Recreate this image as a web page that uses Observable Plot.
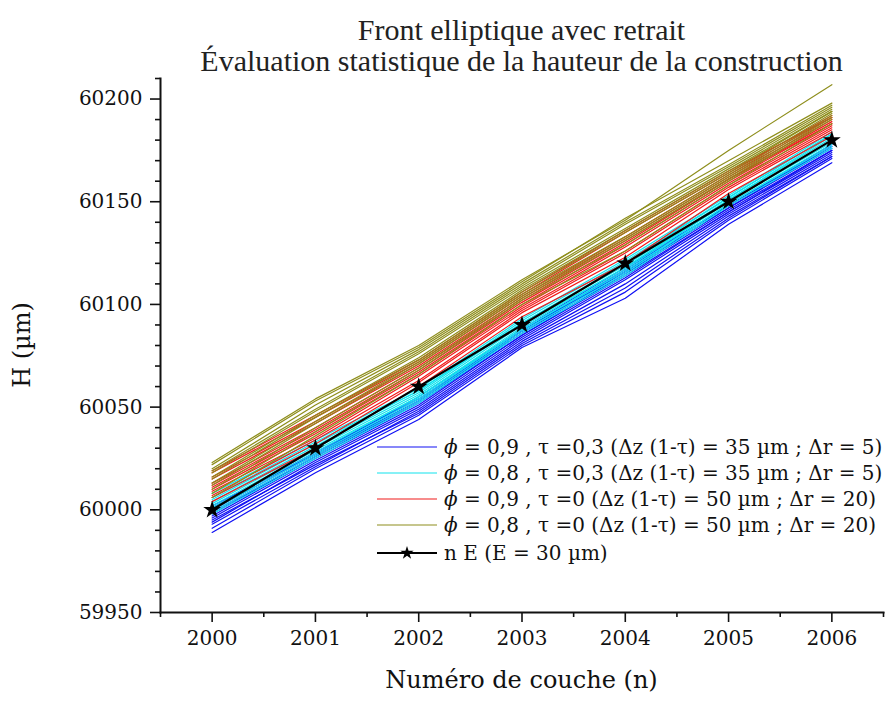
<!DOCTYPE html>
<html><head><meta charset="utf-8">
<script src="https://cdn.jsdelivr.net/npm/d3@7"></script>
<script src="https://cdn.jsdelivr.net/npm/@observablehq/plot@0.6"></script>
<style>
body{margin:0;background:#fff;width:893px;height:702px;overflow:hidden}
#title{height:72px;padding-left:160px;width:723px;font-family:"Liberation Serif",serif;font-size:30px;line-height:31px;text-align:center;color:#222;}
#chart svg{display:block}
</style></head><body>
<div id="title"><div style="padding-top:14px">Front elliptique avec retrait</div><div>Évaluation statistique de la hauteur de la construction</div></div>
<div id="chart"></div>
<script>
// Layer numbers (x)
const layers = [2000, 2001, 2002, 2003, 2004, 2005, 2006];
// Reference n E (E = 30 µm)
const reference = [60000, 60030, 60060, 60090, 60120, 60150, 60180];
// phi = 0,9 , tau = 0,3
const blueRuns = [
  [59989, 60018, 60044, 60079, 60103, 60139, 60169],
  [59991, 60020, 60046, 60080, 60106, 60141, 60171],
  [59993, 60021, 60048, 60082, 60110, 60143, 60172],
  [59994, 60023, 60049, 60083, 60112, 60144, 60173],
  [59996, 60024, 60050, 60084, 60113, 60145, 60174],
  [59997, 60025, 60051, 60085, 60114, 60145, 60175],
  [59998, 60026, 60052, 60085, 60115, 60146, 60175],
  [59999, 60026, 60053, 60086, 60116, 60147, 60176],
  [60000, 60027, 60053, 60087, 60116, 60147, 60177],
  [60001, 60028, 60054, 60087, 60117, 60148, 60177],
  [60002, 60027, 60055, 60088, 60118, 60148, 60178],
  [59995, 60022, 60047, 60081, 60108, 60142, 60172]
];
// phi = 0,8 , tau = 0,3
const cyanRuns = [
  [59998, 60025, 60052, 60086, 60114, 60148, 60176],
  [59999, 60026, 60053, 60087, 60115, 60149, 60177],
  [60000, 60027, 60054, 60088, 60116, 60149, 60178],
  [60001, 60028, 60055, 60088, 60117, 60150, 60179],
  [60002, 60029, 60055, 60089, 60118, 60150, 60180],
  [60003, 60030, 60056, 60090, 60118, 60151, 60181],
  [60004, 60031, 60057, 60091, 60119, 60151, 60182],
  [60005, 60032, 60058, 60091, 60120, 60152, 60183],
  [60006, 60033, 60058, 60092, 60121, 60152, 60183],
  [60008, 60034, 60059, 60093, 60122, 60153, 60184]
];
// phi = 0,9 , tau = 0
const redRuns = [
  [60004, 60030, 60060, 60094, 60120, 60154, 60182],
  [60006, 60032, 60062, 60096, 60123, 60156, 60184],
  [60007, 60034, 60063, 60097, 60125, 60157, 60185],
  [60009, 60035, 60065, 60098, 60126, 60158, 60186],
  [60010, 60037, 60066, 60099, 60128, 60159, 60187],
  [60011, 60038, 60067, 60100, 60129, 60160, 60188],
  [60012, 60039, 60068, 60101, 60130, 60161, 60188],
  [60013, 60040, 60069, 60102, 60131, 60161, 60189],
  [60015, 60042, 60070, 60103, 60132, 60162, 60190],
  [60016, 60043, 60071, 60104, 60133, 60163, 60191],
  [60018, 60045, 60072, 60105, 60135, 60164, 60192],
  [60019, 60046, 60073, 60106, 60136, 60165, 60191]
];
// phi = 0,8 , tau = 0
const oliveRuns = [
  [60006, 60036, 60066, 60100, 60126, 60158, 60188],
  [60008, 60038, 60068, 60102, 60129, 60160, 60190],
  [60010, 60040, 60069, 60103, 60131, 60161, 60191],
  [60012, 60042, 60071, 60104, 60132, 60162, 60192],
  [60013, 60043, 60072, 60105, 60133, 60163, 60193],
  [60015, 60045, 60073, 60106, 60135, 60164, 60194],
  [60016, 60046, 60074, 60107, 60136, 60165, 60194],
  [60018, 60048, 60076, 60108, 60137, 60166, 60195],
  [60019, 60049, 60077, 60109, 60139, 60167, 60196],
  [60020, 60051, 60078, 60110, 60140, 60168, 60197],
  [60022, 60053, 60079, 60111, 60142, 60170, 60198],
  [60023, 60054, 60080, 60112, 60141, 60175, 60207]
];
const seriesLabels = [
  ["0,9", "0,3", "35", "5"],
  ["0,8", "0,3", "35", "5"],
  ["0,9", "0", "50", "20"],
  ["0,8", "0", "50", "20"]
];
const seriesColors = ["#1010f4", "#10e4ee", "#f01a1a", "#8e8e1c"];
const referenceLabel = "n E (E = 30 µm)";
const xTicks = [2000, 2001, 2002, 2003, 2004, 2005, 2006];
const xMinor = [1999.5, 2000.5, 2001.5, 2002.5, 2003.5, 2004.5, 2005.5, 2006.5];
const yTicks = [59950, 60000, 60050, 60100, 60150, 60200];
const yMinor = [59960, 59970, 59980, 59990, 60010, 60020, 60030, 60040, 60060, 60070, 60080, 60090,
  60110, 60120, 60130, 60140, 60160, 60170, 60180, 60190, 60210];

function toRows(runs, g) {
  return runs.flatMap((vals, i) => vals.map((h, j) => ({run: g + "-" + i, layer: layers[j], h})));
}
const refRows = reference.map((h, j) => ({layer: layers[j], h}));
const groups = [blueRuns, cyanRuns, redRuns, oliveRuns];

const chart = Plot.plot({
  width: 893, height: 630,
  marginTop: 6, marginBottom: 90, marginLeft: 160, marginRight: 10,
  x: {domain: [1999.5, 2006.5]},
  y: {domain: [59950, 60210]},
  style: {fontFamily: "DejaVu Serif", fontSize: "20px", color: "#111", background: "white"},
  marks: [
    ...groups.map((runs, k) => Plot.line(toRows(runs, k), {x: "layer", y: "h", z: "run", stroke: seriesColors[k], strokeWidth: 1.2})),
    Plot.line(refRows, {x: "layer", y: "h", stroke: "black", strokeWidth: 2.2}),
    Plot.dot(refRows, {x: "layer", y: "h", symbol: "star", fill: "black", stroke: "none", r: 5.6}),
    Plot.axisY({ticks: yTicks, tickSize: 10, tickPadding: 8, tickFormat: d => String(d), label: null, strokeWidth: 1.6, fontSize: 20}),
    Plot.axisY({ticks: yMinor, tickSize: 5, tickFormat: () => "", label: null, strokeWidth: 1.6}),
    Plot.axisX({ticks: xTicks, tickSize: 10, tickPadding: 8, tickFormat: d => String(d), label: null, strokeWidth: 1.6, fontSize: 20}),
    Plot.axisX({ticks: xMinor, tickSize: 5, tickFormat: () => "", label: null, strokeWidth: 1.6}),
    Plot.frame({anchor: "left", strokeWidth: 2}),
    Plot.frame({anchor: "bottom", strokeWidth: 2})
  ]
});
document.getElementById("chart").append(chart);

const svg = d3.select(chart);
svg.append("text").attr("x", 521.5).attr("y", 616).attr("text-anchor", "middle")
  .attr("font-size", 24).attr("fill", "#111").text("Numéro de couche (n)");
svg.append("text").attr("transform", "translate(30,273) rotate(-90)").attr("text-anchor", "middle")
  .attr("font-size", 24).attr("fill", "#111").text("H (µm)");

// legend
const lg = svg.append("g").attr("font-size", 20).attr("fill", "#111").attr("text-anchor", "start");
const rowsY = [375, 401, 427, 453, 481];
seriesLabels.forEach((l, i) => {
  const y = rowsY[i];
  lg.append("line").attr("x1", 377).attr("x2", 437).attr("y1", y).attr("y2", y).attr("stroke", seriesColors[i]).attr("stroke-width", 1.2);
  const t = lg.append("text").attr("x", 444).attr("y", y).attr("dy", "0.35em");
  t.append("tspan").attr("font-style", "italic").text("ϕ");
  t.append("tspan").text(` = ${l[0]} , τ =${l[1]} (Δz (1-τ) = ${l[2]} µm ; Δr = ${l[3]})`);
});
{
  const y = rowsY[4];
  lg.append("line").attr("x1", 377).attr("x2", 437).attr("y1", y).attr("y2", y).attr("stroke", "black").attr("stroke-width", 2);
  lg.append("path").attr("d", d3.symbol(d3.symbolStar, 55)()).attr("transform", `translate(407,${y})`).attr("fill", "black");
  lg.append("text").attr("x", 444).attr("y", y).attr("dy", "0.35em").text(referenceLabel);
}
</script>
</body></html>
